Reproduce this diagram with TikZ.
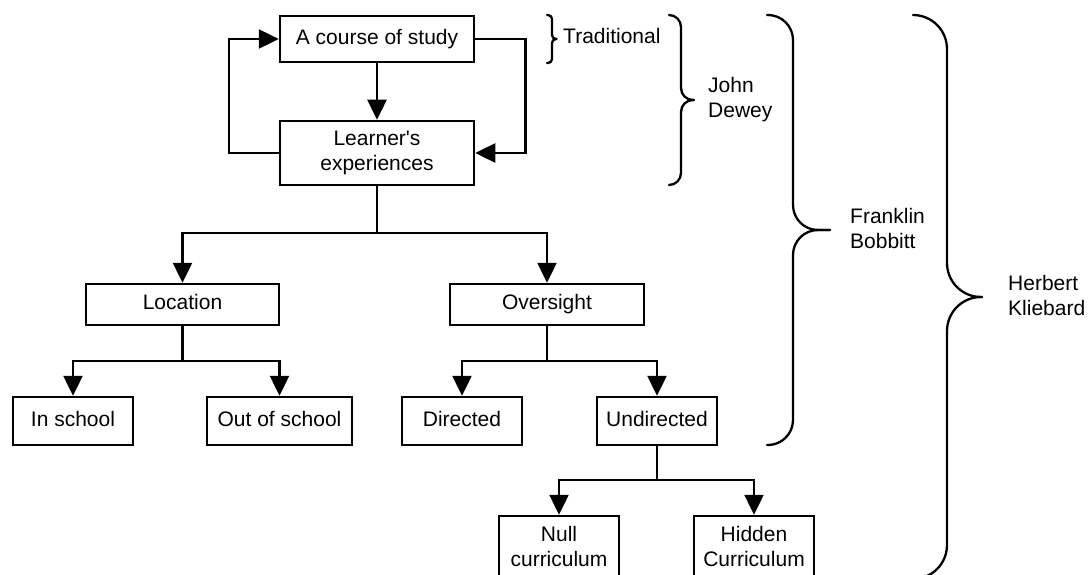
\documentclass[tikz,border=0pt]{standalone}
\usepackage{fontspec}
\setmainfont{Liberation Sans}
\usetikzlibrary{arrows.meta}
\newcommand\lowstrut{\rule[-4.4pt]{0pt}{4.4pt}}
% right-pointing brace: tip x, line x, point x, top y, middle y, bottom y, corner radius
\newcommand\mybracepath[7]{%
  \draw[brc, rounded corners=#7] (#1,#4) -- (#2,#4) -- (#2,#5) -- (#3,#5);
  \draw[brc, rounded corners=#7] (#3,#5) -- (#2,#5) -- (#2,#6) -- (#1,#6);}
\begin{document}
\begin{tikzpicture}[x=1pt,y=-1pt,
  every node/.style={font=\fontsize{21}{25}\selectfont, inner sep=0pt},
  box/.style={draw, line width=2.5pt, align=center, text height=15.3pt, text depth=4.4pt},
  tallbox/.style={draw, line width=2.5pt, align=center},
  conn/.style={line width=2.5pt},
  arr/.style={conn, -{Triangle[length=20pt,width=19pt]}},
  brc/.style={line width=2.3pt, line cap=round, line join=round},
  lbl/.style={anchor=west, align=left}]
\useasboundingbox (0,0) rectangle (1090,575);

% boxes
\node[box, minimum width=194pt, minimum height=46pt] (course) at (377,39) {A course of study};
\node[tallbox, minimum width=194pt, minimum height=64pt] (learner) at (377,153) {Learner\textquotesingle s\\experiences};
\node[box, minimum width=193pt, minimum height=41pt] (loc) at (182.5,304.5) {Location};
\node[box, minimum width=194pt, minimum height=41pt] (over) at (547,304.5) {Oversight};
\node[box, minimum width=120pt, minimum height=48pt] (insch) at (73,421) {In school};
\node[box, minimum width=145pt, minimum height=48pt] (outsch) at (279.5,421) {Out of school};
\node[box, minimum width=120pt, minimum height=48pt] (dir) at (462,421) {Directed};
\node[box, minimum width=120pt, minimum height=48pt] (undir) at (657,421) {Undirected};
\node[tallbox, minimum width=120pt, minimum height=65pt] (null) at (559,548.5) {Null\\curriculum\lowstrut};
\node[tallbox, minimum width=120pt, minimum height=65pt] (hidden) at (754,548.5) {Hidden\\Curriculum\lowstrut};

% connectors
\draw[arr] (course.south) -- (learner.north);
\draw[arr] (learner.west) -- ++(-50,0) |- (course.west);
\draw[arr] (course.east) -- ++(50,0) |- (learner.east);

\coordinate (j1) at (377,233);
\draw[arr] (learner.south) -- (j1) -| (loc.north);
\draw[arr] (j1) -| (over.north);

\coordinate (j2) at (182.5,361);
\draw[arr] (loc.south) -- (j2) -| (insch.north);
\draw[arr] (j2) -| (outsch.north);

\coordinate (j3) at (547,361);
\draw[arr] (over.south) -- (j3) -| (dir.north);
\draw[arr] (j3) -| (undir.north);

\coordinate (j4) at (657,480);
\draw[arr] (undir.south) -- (j4) -| (null.north);
\draw[arr] (j4) -| (hidden.north);

% braces
\mybracepath{547}{552}{556.5}{15}{39}{63}{4pt}
\mybracepath{669}{681}{694}{15}{100}{185}{12pt}
\mybracepath{767}{793}{830}{15}{230}{445}{25pt}
\mybracepath{913}{947}{982}{15}{297}{579}{34pt}

% brace labels
\node[anchor=base west] (trad) at (563,44) {Traditional};
\node[lbl] (jd) at (708,100) {John\\Dewey};
\node[lbl] (fb) at (850,228) {Franklin\\Bobbitt};
\node[lbl] (hk) at (1008,295) {Herbert\\Kliebard};
\end{tikzpicture}
\end{document}
